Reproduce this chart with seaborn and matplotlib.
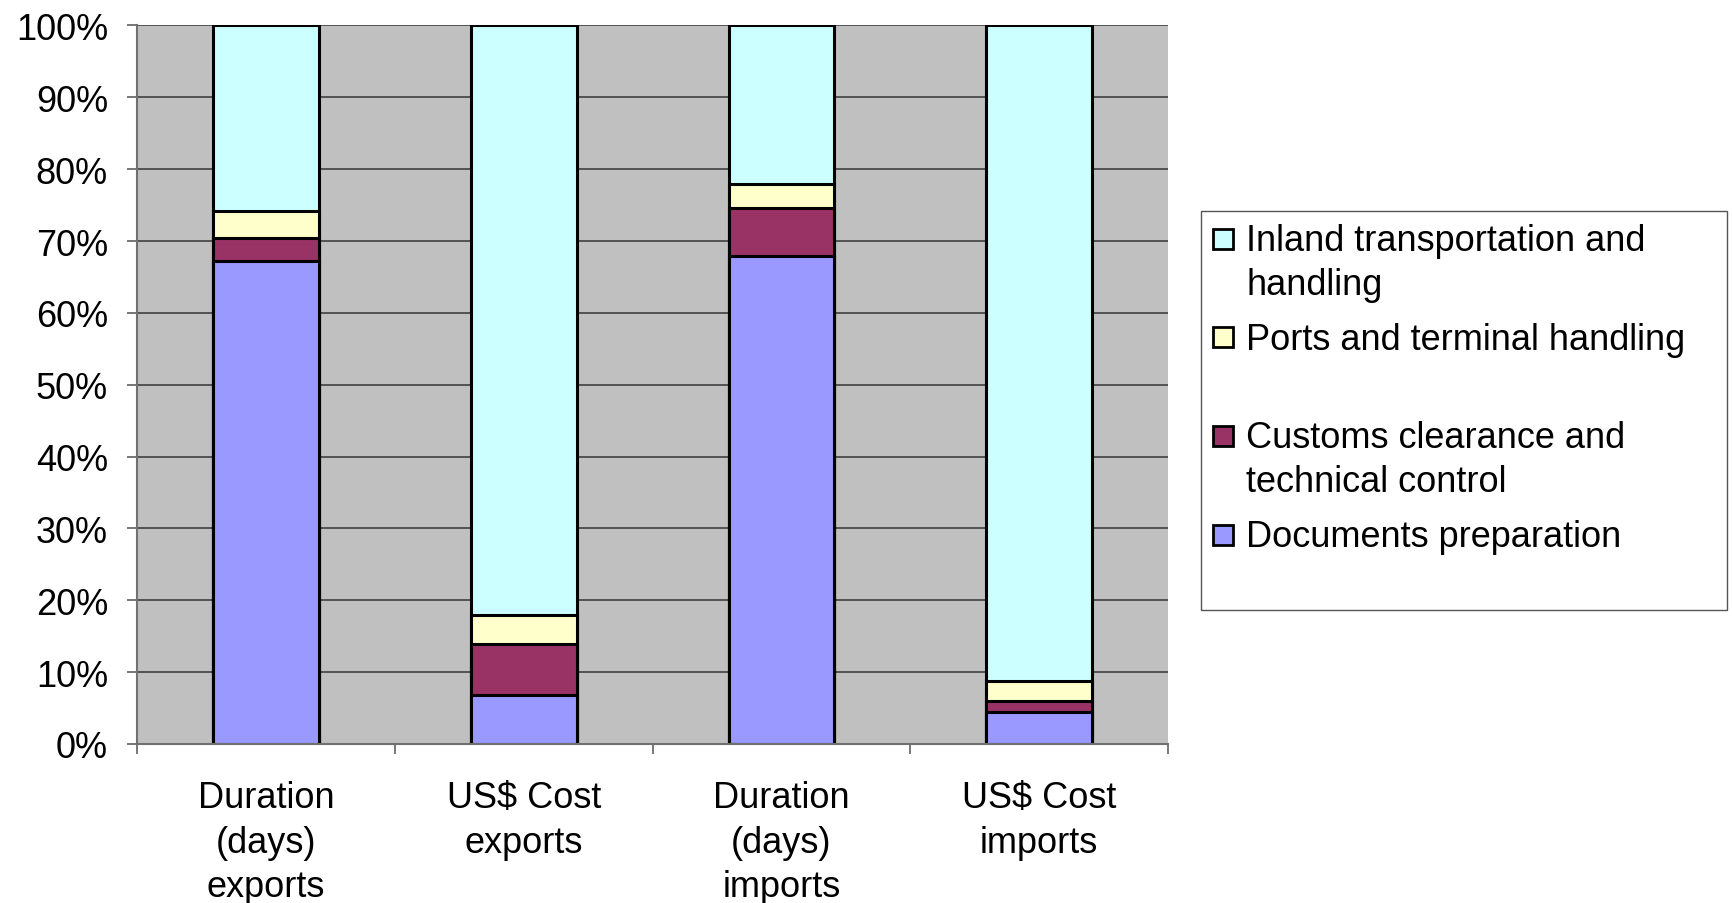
import numpy as np
import pandas as pd
import matplotlib
matplotlib.use("Agg")
import matplotlib.pyplot as plt
import matplotlib.patches as mpatches
from matplotlib.legend_handler import HandlerPatch
from matplotlib.ticker import PercentFormatter
import seaborn as sns

# data (share of each stage, in %)
categories = ["Duration\n(days)\nexports", "US$ Cost\nexports",
              "Duration\n(days)\nimports", "US$ Cost\nimports"]
documents = [67.2, 6.8, 67.9, 4.5]
customs = [3.2, 7.1, 6.7, 1.5]
ports = [3.8, 4.1, 3.4, 2.7]
inland = [25.8, 82.0, 22.0, 91.3]

legend_labels = ["Inland transportation and\nhandling",
                 "Ports and terminal handling\n",
                 "Customs clearance and\ntechnical control",
                 "Documents preparation\n"]
colors = ["#CCFFFF", "#FFFFCC", "#993366", "#9999FF"]

sns.set_theme(style="white")
plt.rcParams["font.family"] = ["Liberation Sans", "DejaVu Sans"]
plt.rcParams["text.color"] = "black"
plt.rcParams["xtick.color"] = "black"
plt.rcParams["ytick.color"] = "black"
FS = 26

# cumulative tops, drawn from the tallest down so the stacks overlap
stack = np.cumsum([documents, customs, ports, inland], axis=0)
tops = [stack[3], stack[2], stack[1], stack[0]]

fig = plt.figure(figsize=(17.33, 9.04), dpi=100)
ax = fig.add_axes([0.0791, 0.1759, 0.5949, 0.7948])
ax.set_facecolor("#C0C0C0")

for top, col in zip(tops, colors):
    df = pd.DataFrame({"cat": categories, "val": top})
    sns.barplot(data=df, x="cat", y="val", color=col, saturation=1,
                width=0.41, edgecolor="black", linewidth=2.2, ax=ax)

ax.set_xlim(-0.5, 3.5)
ax.set_ylim(0, 100)
ax.set_xlabel("")
ax.set_ylabel("")

ax.set_yticks(range(0, 101, 10))
ax.yaxis.set_major_formatter(PercentFormatter(100, decimals=0))
ax.yaxis.grid(True, color="#404040", linewidth=1.2)
ax.set_axisbelow(True)

ax.set_xticks([-0.5, 0.5, 1.5, 2.5, 3.5], labels=[""] * 5)
ax.set_xticks([0, 1, 2, 3], labels=categories, minor=True)
ax.tick_params(axis="x", which="major", direction="out", length=7, width=1.2,
               color="#606060", bottom=True)
ax.tick_params(axis="x", which="minor", length=0, labelsize=FS, pad=26,
               bottom=True, labelcolor="black")
ax.tick_params(axis="y", direction="out", length=7, width=1.2, color="#606060",
               labelsize=FS, pad=14, left=True, labelcolor="black")
for lab in ax.get_xticklabels(minor=True):
    lab.set_linespacing(1.35)

for side in ["top", "right"]:
    ax.spines[side].set_visible(False)
for side in ["left", "bottom"]:
    ax.spines[side].set_color("#707070")
    ax.spines[side].set_linewidth(1.5)


def square_handle(legend, orig_handle, xdescent, ydescent, width, height, fontsize):
    return mpatches.Rectangle((-xdescent, -ydescent), width, width)


handles = [mpatches.Patch(facecolor=c, edgecolor="black", linewidth=2.0) for c in colors]
leg = ax.legend(handles, legend_labels, loc="upper left",
                bbox_to_anchor=(1201 / 1733, 1 - 212 / 904, 526 / 1733, 0),
                bbox_transform=fig.transFigure, mode="expand", borderaxespad=0,
                fontsize=FS, frameon=True, fancybox=False, framealpha=1,
                edgecolor="#555555", handlelength=0.55, handleheight=0.716,
                handletextpad=0.37, labelspacing=0.55, borderpad=0.33,
                handler_map={mpatches.Patch: HandlerPatch(patch_func=square_handle)})
leg.get_frame().set_linewidth(1.0)
for t in leg.get_texts():
    t.set_linespacing(1.33)
    t.set_color("black")
for colbox in leg._legend_handle_box.get_children():
    for item in colbox.get_children():
        item.align = "top"

fig.savefig("out.png", dpi=100, facecolor="white")
